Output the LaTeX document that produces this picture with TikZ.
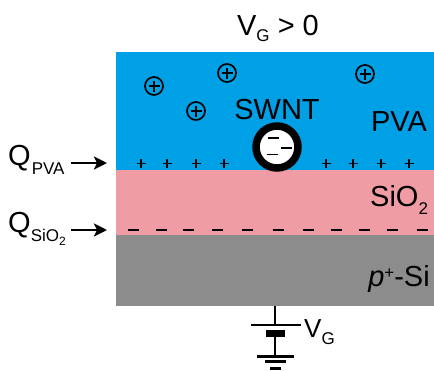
\documentclass[tikz,border=0pt]{standalone}
\usepackage{fontspec}
\setmainfont{Liberation Sans}
\definecolor{pvablue}{HTML}{00A0E6}
\definecolor{oxpink}{HTML}{F09CA4}
\definecolor{sigray}{HTML}{8C8C8C}
\newcommand{\bigtxt}{\fontsize{29}{32}\selectfont}
\newcommand{\midtxt}{\fontsize{26}{29}\selectfont}
\newcommand{\subtxt}{\fontsize{17}{20}\selectfont}
\newcommand{\subsubtxt}{\fontsize{12}{14}\selectfont}
\tikzset{
 lbl/.style={inner sep=0pt,text=black},
 ion/.style={circle,draw=black,line width=1.7pt,minimum size=18pt,inner sep=0pt},
 chargemark/.style={line width=1.7pt,black},
 wire/.style={line width=2.8pt,black},
 arrowline/.style={line width=2.6pt,black,-{Stealth[length=13pt,width=13pt,inset=3pt]}},
}
\usetikzlibrary{arrows.meta}
\begin{document}
\begin{tikzpicture}[x=1pt,y=-1pt]
\useasboundingbox (0,0) rectangle (434,370);
\fill[pvablue] (116,52) rectangle (434,170);
\fill[oxpink] (116,170) rectangle (434,235);
\fill[sigray] (116,235) rectangle (434,306);
% text
\node[lbl,anchor=base] (vg) at (278,35) {\bigtxt V\raisebox{-6pt}{\subtxt G} > 0};
\node[lbl,anchor=base] (swnt) at (277,119) {\bigtxt SWNT};
\node[lbl,anchor=base] (pva) at (399,131) {\bigtxt PVA};
\node[lbl,anchor=base west] (sio) at (370,206) {\bigtxt SiO\raisebox{-8pt}{\subtxt 2}};
\node[lbl,anchor=base] (si) at (399,286) {\bigtxt \textit{p}\raisebox{8pt}{\subtxt +}-Si};
\node[lbl,anchor=base west] (qp) at (8,165) {\bigtxt Q\raisebox{-9pt}{\kern1pt\subtxt PVA}};
\node[lbl,anchor=base west] (qs) at (8,232) {\bigtxt Q\raisebox{-9pt}{\subtxt SiO\raisebox{-4pt}{\subsubtxt 2}}};
\node[lbl,anchor=base west] (vb) at (304,337) {\midtxt V\raisebox{-7pt}{\subtxt G}};
% arrows
\coordinate (a1s) at (71,163); \coordinate (a1e) at (107,163);
\coordinate (a2s) at (71,230); \coordinate (a2e) at (107,230);
\draw[arrowline] (a1s) -- (a1e);
\draw[arrowline] (a2s) -- (a2e);
% ions
\foreach \x/\y in {154/86,227/73,196/111,365/74}{
  \node[ion] at (\x,\y) {};
  \draw[chargemark] (\x-5.5,\y) -- (\x+5.5,\y);
  \draw[chargemark] (\x,\y-5.5) -- (\x,\y+5.5);
}
% plus row
\foreach \x in {141,167,196,224,326,353,381,409}{
  \draw[chargemark] (\x-4.5,163.5) -- (\x+4.5,163.5);
  \draw[chargemark] (\x,159) -- (\x,168);
}
% minus row
\foreach \x in {133,161,188,217,247,278,308,336,364,392,422}{
  \draw[chargemark] (\x-5.5,230) -- (\x+5.5,230);
}
% tube
\node[circle,draw=black,fill=white,line width=7.5pt,minimum size=42pt,inner sep=0pt] (tube) at (277,147) {};
\foreach \x/\y in {273/138,286/148,272/154.5}{
  \draw[chargemark] (\x-5.5,\y) -- (\x+5.5,\y);
}
% battery
\coordinate (b0) at (275,306); \coordinate (b1) at (275,325);
\coordinate (b2) at (275,337); \coordinate (b3) at (275,356);
\draw[wire] (b0) -- (b1);
\draw[wire] (251,325) -- (301,325);
\fill[black] (266,330) rectangle (285,337);
\draw[wire] (b2) -- (b3);
\draw[line width=3pt] (257,356) -- (294,356);
\draw[line width=3pt] (265,361.5) -- (286,361.5);
\draw[line width=3pt] (270,368) -- (281,368);
\end{tikzpicture}
\end{document}
